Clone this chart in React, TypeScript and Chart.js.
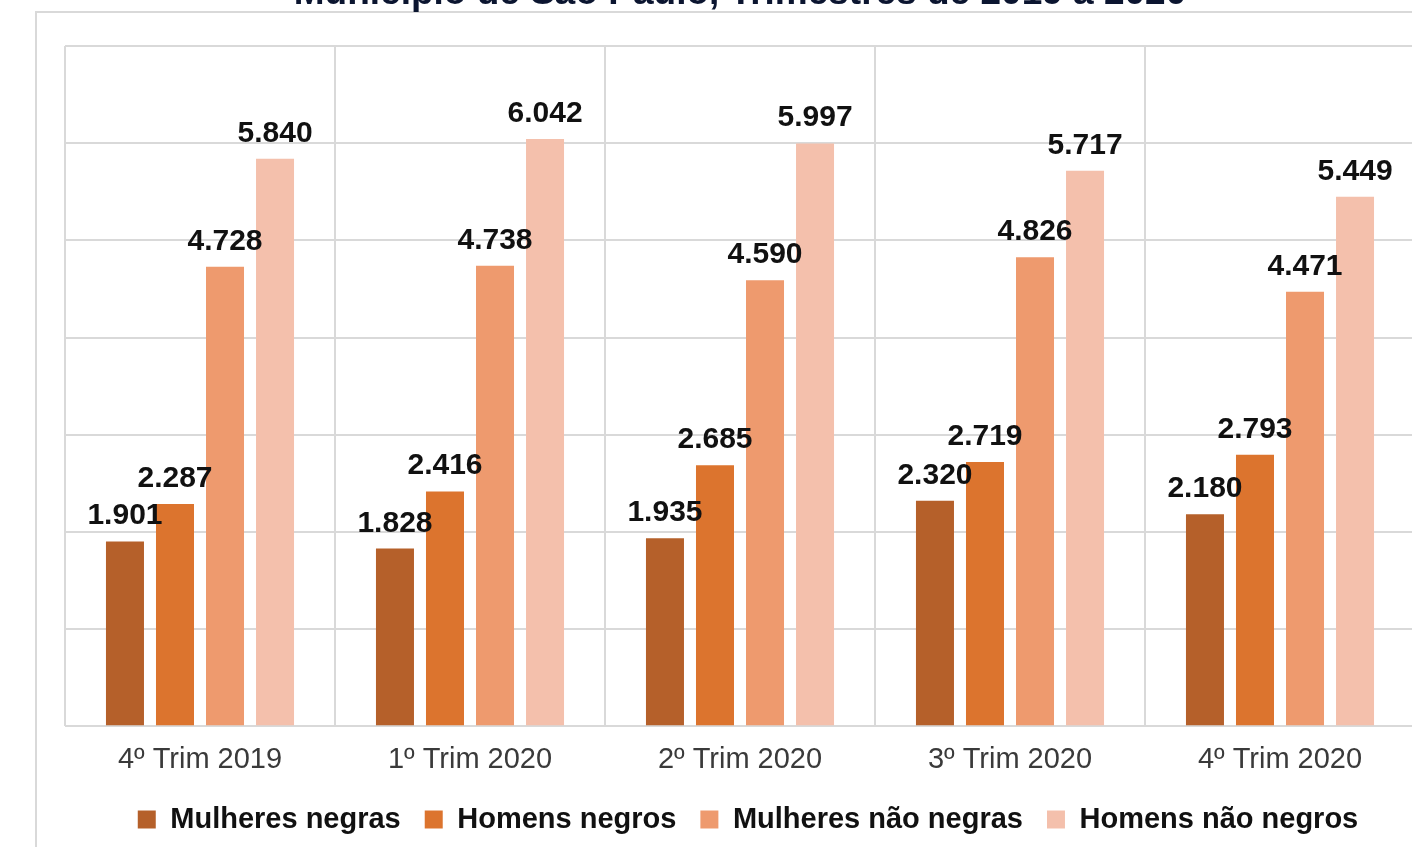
import React, { useEffect, useRef } from "react";
import { Chart, registerables } from "chart.js";

Chart.register(...registerables);

const titleText = "Município de São Paulo, Trimestres de 2019 a 2020";
const categories = ["4º Trim 2019", "1º Trim 2020", "2º Trim 2020", "3º Trim 2020", "4º Trim 2020"];
const seriesNames = ["Mulheres negras", "Homens negros", "Mulheres não negras", "Homens não negros"];
const mulheresNegras = [1901, 1828, 1935, 2320, 2180];
const homensNegros = [2287, 2416, 2685, 2719, 2793];
const mulheresNaoNegras = [4728, 4738, 4590, 4826, 4471];
const homensNaoNegros = [5840, 6042, 5997, 5717, 5449];
const seriesColors = ["#B5602A", "#DC742E", "#EE9A6E", "#F4C0AC"];
const yMax = 7000;
const yStep = 1000;

const FONT = "'Liberation Sans', Arial, sans-serif";
const CANVAS_W = 1415;
const CANVAS_H = 945;

function fmt(n: number): string {
  const th = Math.floor(n / 1000);
  const rest = String(n % 1000).padStart(3, "0");
  return th > 0 ? `${th}.${rest}` : String(n);
}

const framePlugin = {
  id: "frameTitle",
  beforeDraw(chart: any) {
    const ctx = chart.ctx;
    ctx.save();
    ctx.fillStyle = "#ffffff";
    ctx.fillRect(0, 0, chart.width, chart.height);
    ctx.strokeStyle = "#d9d9d9";
    ctx.lineWidth = 2;
    ctx.strokeRect(1, 57, 3000, 3000);
    ctx.fillStyle = "#0b1530";
    ctx.font = `bold 37px ${FONT}`;
    ctx.textAlign = "center";
    ctx.textBaseline = "alphabetic";
    ctx.fillText(titleText, 705, 49);
    ctx.restore();
  },
  afterLayout(chart: any) {
    const lg = chart.legend;
    if (lg) {
      lg.left += 8;
      lg.right += 8;
      lg.top -= 12;
      lg.bottom -= 12;
    }
  },
};

const labelPlugin = {
  id: "valueLabels",
  afterDatasetsDraw(chart: any) {
    const ctx = chart.ctx;
    ctx.save();
    ctx.font = `bold 30px ${FONT}`;
    ctx.fillStyle = "#111111";
    ctx.textAlign = "center";
    ctx.textBaseline = "alphabetic";
    chart.data.datasets.forEach((ds: any, di: number) => {
      const meta = chart.getDatasetMeta(di);
      meta.data.forEach((el: any, i: number) => {
        ctx.fillText(fmt(ds.data[i]), el.x, el.y - 17);
      });
    });
    ctx.restore();
  },
};

export default function App() {
  const ref = useRef<HTMLCanvasElement | null>(null);
  useEffect(() => {
    if (!ref.current) return;
    const series = [mulheresNegras, homensNegros, mulheresNaoNegras, homensNaoNegros];
    const chart = new Chart(ref.current, {
      type: "bar",
      data: {
        labels: categories,
        datasets: series.map((d, i) => ({
          label: seriesNames[i],
          data: d,
          backgroundColor: seriesColors[i],
          borderWidth: 0,
          categoryPercentage: 0.741,
          barPercentage: 0.76,
        })),
      },
      options: {
        responsive: false,
        animation: false,
        layout: { padding: { left: 30, right: 35, top: 91, bottom: 44 } },
        scales: {
          x: {
            grid: { color: "#d9d9d9", lineWidth: 2, drawTicks: false, offset: true },
            border: { display: false },
            ticks: { color: "#3a3a3a", font: { family: FONT, size: 29 }, padding: 16 },
          },
          y: {
            min: 0,
            max: yMax,
            ticks: { display: false, stepSize: yStep },
            grid: { color: "#d9d9d9", lineWidth: 2, drawTicks: false },
            border: { display: false },
          },
        },
        plugins: {
          legend: {
            position: "bottom",
            labels: {
              boxWidth: 18,
              boxHeight: 18,
              padding: 24,
              color: "#111111",
              font: { family: FONT, size: 29, weight: "bold" },
            },
          },
          tooltip: { enabled: false },
        },
      },
      plugins: [framePlugin, labelPlugin],
    } as any);
    return () => chart.destroy();
  }, []);
  return (
    <div style={{ position: "fixed", left: 35, top: -45, width: CANVAS_W, height: CANVAS_H }}>
      <canvas ref={ref} width={CANVAS_W} height={CANVAS_H} style={{ width: CANVAS_W, height: CANVAS_H, display: "block" }} />
    </div>
  );
}
